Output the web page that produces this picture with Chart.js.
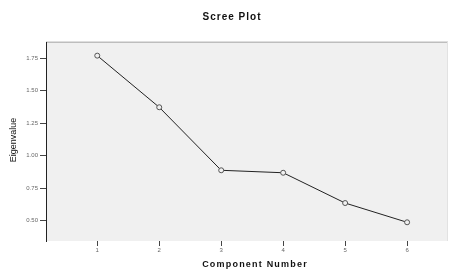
<!DOCTYPE html>
<html>
<head>
<meta charset="utf-8">
<script src="https://cdn.jsdelivr.net/npm/chart.js@4"></script>
<style>
  html, body { margin: 0; padding: 0; background: #ffffff; }
  canvas { display: block; }
</style>
</head>
<body>
<canvas id="c" width="453" height="269"></canvas>
<script>
// ---- data ----
const components = [1, 2, 3, 4, 5, 6];
const eigenvalues = [1.77, 1.373, 0.888, 0.869, 0.636, 0.488];
const yTickValues = [0.50, 0.75, 1.00, 1.25, 1.50, 1.75];
const xTickValues = [1, 2, 3, 4, 5, 6];
const chartTitle = 'Scree Plot';
const xTitle = 'Component Number';
const yTitle = 'Eigenvalue';

const FONT = '"Liberation Sans", Arial, Helvetica, sans-serif';

const decor = {
  id: 'decor',
  beforeDraw(chart) {
    const { ctx, chartArea: a } = chart;
    ctx.save();
    ctx.fillStyle = '#f0f0f0';
    ctx.fillRect(a.left, a.top, a.right - a.left, a.bottom - a.top);
    ctx.strokeStyle = '#bdbdbd';
    ctx.lineWidth = 1.5;
    ctx.beginPath();
    ctx.moveTo(a.left, a.top + 0.25);
    ctx.lineTo(a.right, a.top + 0.25);
    ctx.stroke();
    ctx.strokeStyle = '#e2e2e2';
    ctx.lineWidth = 1;
    ctx.beginPath();
    ctx.moveTo(a.right - 0.5, a.top);
    ctx.lineTo(a.right - 0.5, a.bottom);
    ctx.stroke();
    ctx.restore();
  },
  afterDraw(chart) {
    const { ctx } = chart;
    ctx.save();
    ctx.fillStyle = '#111';
    ctx.textAlign = 'center';
    ctx.textBaseline = 'middle';
    ctx.font = 'bold 10px ' + FONT;
    ctx.letterSpacing = '1px';
    ctx.fillText(chartTitle, 232, 17.5);
    ctx.font = 'bold 9px ' + FONT;
    ctx.letterSpacing = '1.2px';
    ctx.fillText(xTitle, 255, 264.5);
    ctx.letterSpacing = '0px';
    ctx.font = '9px ' + FONT;
    ctx.translate(14, 140);
    ctx.rotate(-Math.PI / 2);
    ctx.fillText(yTitle, 0, 0);
    ctx.restore();
  }
};

new Chart(document.getElementById('c'), {
  type: 'line',
  data: {
    datasets: [{
      data: components.map((c, i) => ({ x: c, y: eigenvalues[i] })),
      borderColor: '#222',
      borderWidth: 1,
      pointRadius: 2.5,
      pointBorderColor: '#555',
      pointBackgroundColor: '#f0f0f0',
      pointBorderWidth: 1,
      tension: 0
    }]
  },
  options: {
    responsive: false,
    animation: false,
    devicePixelRatio: 1,
    layout: { padding: { top: 42, right: 1, left: 0, bottom: 0 } },
    plugins: { legend: { display: false }, title: { display: false }, tooltip: { enabled: false } },
    scales: {
      x: {
        type: 'linear',
        min: 0.173,
        max: 6.66,
        afterBuildTicks(s) { s.ticks = xTickValues.map(v => ({ value: v })); },
        afterFit(s) { s.height = 28; },
        grid: { drawOnChartArea: false, drawTicks: true, tickLength: 5, color: '#444' },
        border: { display: false },
        ticks: { color: '#666', font: { size: 6, family: FONT }, padding: 1, maxRotation: 0,
                 callback: v => String(v) }
      },
      y: {
        type: 'linear',
        min: 0.344,
        max: 1.875,
        afterBuildTicks(s) { s.ticks = yTickValues.map(v => ({ value: v })); },
        afterFit(s) { s.width = 46; },
        grid: { drawOnChartArea: false, drawTicks: true, tickLength: 6, color: '#444' },
        border: { display: true, color: '#222', width: 1 },
        ticks: { color: '#666', font: { size: 6, family: FONT }, padding: 2,
                 callback: v => Number(v).toFixed(2) }
      }
    }
  },
  plugins: [decor]
});
</script>
</body>
</html>
